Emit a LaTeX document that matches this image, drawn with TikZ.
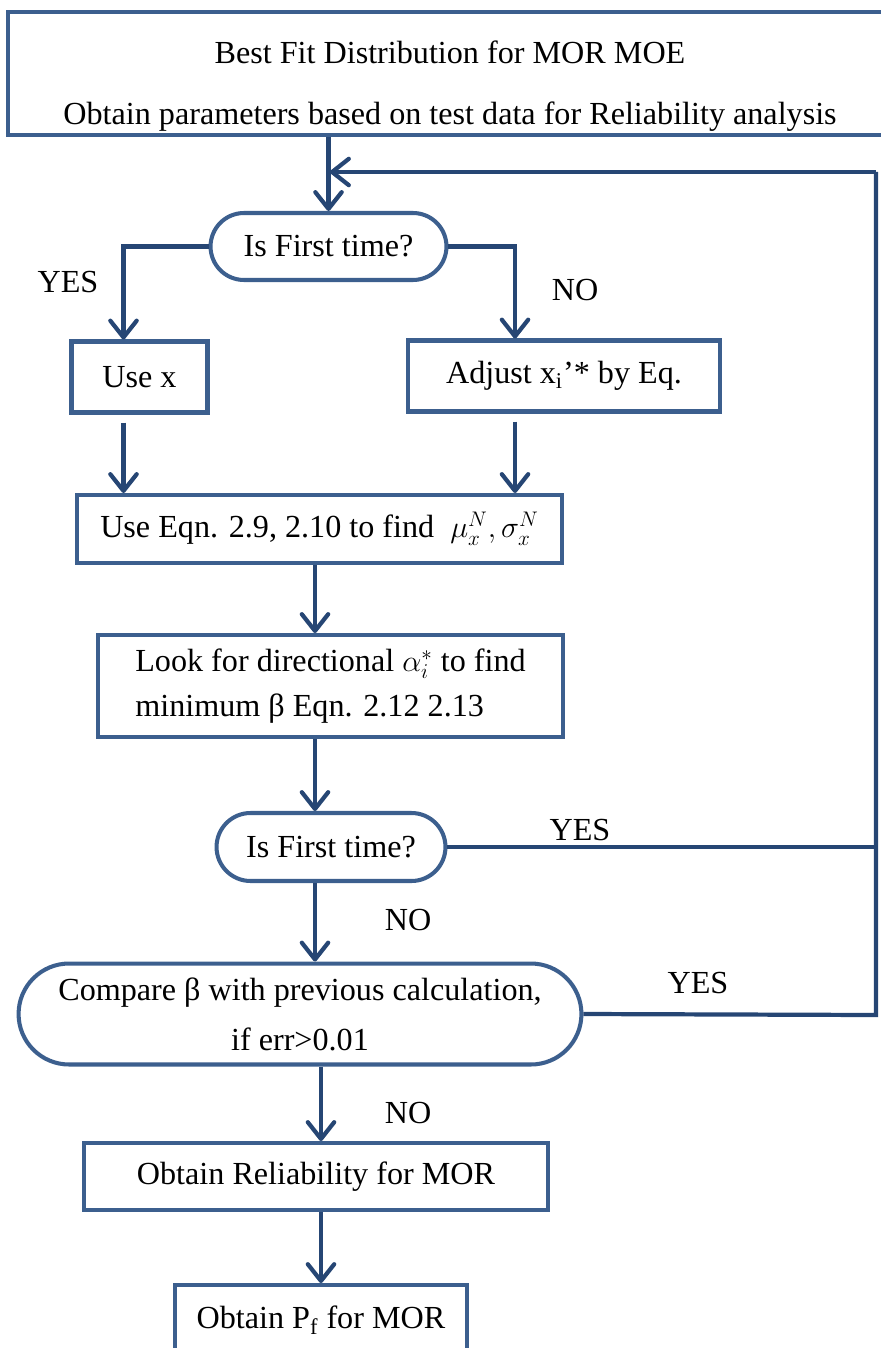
\documentclass[tikz,border=0pt]{standalone}
\usepackage{fontspec}
\setmainfont{Liberation Serif}
\usetikzlibrary{arrows.meta}
\usetikzlibrary{shapes.misc}

\definecolor{boxblue}{RGB}{60,95,142}
\definecolor{flowblue}{RGB}{38,70,116}
\newcommand\flowfont{\fontsize{18.3pt}{22pt}\selectfont}

\tikzset{
  procbox/.style={draw=boxblue, line width=2.3pt, fill=white, font=\flowfont, inner sep=2pt},
  termbox/.style={procbox, rounded rectangle},
  link/.style={draw=flowblue, line width=2.4pt},
  flow/.style={link, -{Straight Barb[length=9.5pt, width=15pt, line cap=round, line join=round]}},
  answer/.style={font=\flowfont}
}

\begin{document}
\begin{tikzpicture}[x=0.02cm, y=-0.02cm]
\useasboundingbox (0,0) rectangle (880,1348);

\node[procbox, minimum width=17.7cm, minimum height=2.46cm, align=center] (head) at (450,73.5)
  {\rule{0pt}{27pt}Best Fit Distribution for MOR MOE\\[12.7pt]Obtain parameters based on test data for Reliability analysis};
\node[termbox, minimum width=4.86cm, minimum height=1.34cm] (first1) at (328.5,246.5) {Is First time?};
\node[procbox, minimum width=2.72cm, minimum height=1.42cm] (usex) at (139.5,377) {Use x};
\node[procbox, minimum width=6.24cm, minimum height=1.42cm] (adjust) at (564,376) {Adjust x\textsubscript{i}’* by Eq.};
\node[procbox, minimum width=9.7cm, minimum height=1.36cm] (normal) at (319.5,529) {Use Eqn. 2.9, 2.10 to find~ $\mu_x^N,\sigma_x^N$};
\node[procbox, minimum width=9.3cm, minimum height=2.04cm, align=left] (dircos) at (330.5,686)
  {Look for directional $\alpha_i^*$ to find\\[3.6pt]minimum β Eqn. 2.12 2.13};
\node[termbox, minimum width=4.72cm, minimum height=1.36cm] (first2) at (331,847) {Is First time?};
\node[termbox, minimum width=11.4cm, minimum height=2.02cm, align=center] (compare) at (300,1014)
  {Compare β with previous calculation,\\[6.5pt]if err>0.01};
\node[procbox, minimum width=9.3cm, minimum height=1.34cm] (rel) at (316,1176.5) {Obtain Reliability for MOR};
\node[procbox, minimum width=5.84cm, minimum height=1.4cm, anchor=north] (pf) at (321,1283) {Obtain P\textsubscript{f} for MOR};

\node[answer] (yes1) at (68,282) {YES};
\node[answer] (no1) at (575,290) {NO};
\node[answer] (yes2) at (580,830) {YES};
\node[answer] (no2) at (408,920) {NO};
\node[answer] (yes3) at (698,983) {YES};
\node[answer] (no3) at (408,1113) {NO};

\coordinate (back) at (330,172);
\coordinate (backR) at (876,172);
\coordinate (cmpR) at (876,1015);
\coordinate (spineA) at (315,0);
\coordinate (spineB) at (321,0);

\draw[flow] (head.south -| first1.north) -- (first1.north);
\draw[flow] (backR) -- (back);
\draw[link] (compare.east) -- (cmpR) -- (backR);
\draw[link] (first2.east) -- (first2.east -| cmpR);

\draw[flow] (first1.west) -| ([xshift=-0.32cm]usex.north);
\draw[flow] (first1.east) -| ([xshift=-0.98cm]adjust.north);
\draw[flow] ([xshift=-0.32cm,yshift=-0.16cm]usex.south) -- ([xshift=-0.32cm]usex.south |- normal.north);
\draw[flow] ([xshift=-0.98cm,yshift=-0.16cm]adjust.south) -- ([xshift=-0.98cm]adjust.south |- normal.north);

\draw[flow] (normal.south -| spineA) -- (dircos.north -| spineA);
\draw[flow] (dircos.south -| spineA) -- (first2.north -| spineA);
\draw[flow] (first2.south -| spineA) -- (compare.north -| spineA);
\draw[flow] (compare.south -| spineB) -- (rel.north -| spineB);
\draw[flow] (rel.south -| spineB) -- (pf.north -| spineB);
\end{tikzpicture}
\end{document}
